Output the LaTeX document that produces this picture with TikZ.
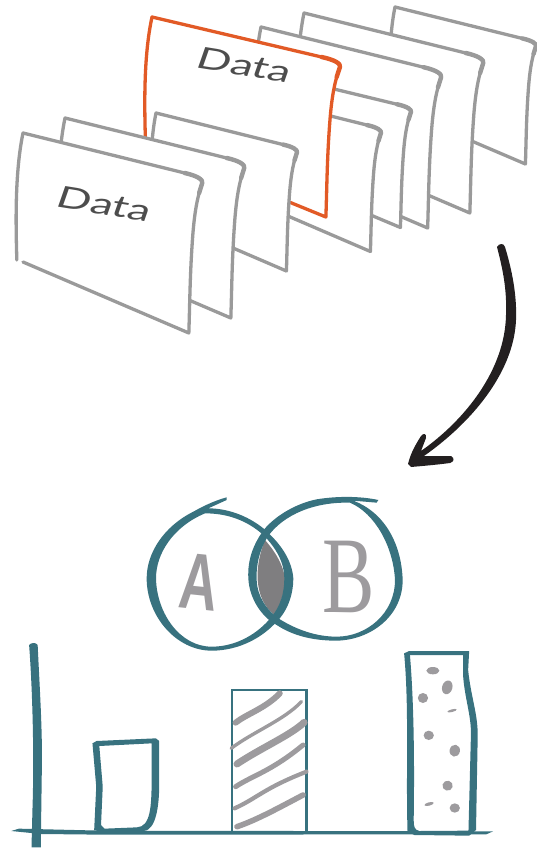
\documentclass[tikz,border=0pt]{standalone}
\usepackage{fontspec}
\setmainfont{Liberation Sans}
\newfontfamily\letterfont{Liberation Serif}
\newfontfamily\datafont{Lato}
\definecolor{cardgrey}{HTML}{9A9A9A}
\definecolor{cardorange}{HTML}{E25A26}
\definecolor{teal1}{HTML}{38727F}
\definecolor{lettergrey}{HTML}{9D9B9E}
\definecolor{lensgrey}{HTML}{7F7E80}
\definecolor{arrowblack}{HTML}{231F20}
\definecolor{datagrey}{HTML}{4D4D4D}
\tikzset{
  datalabel/.style={text=datagrey,font=\datafont\fontsize{30}{30}\selectfont,rotate=-9,xslant=.18,xscale=1.5,transform shape,inner sep=0pt},
  tealfill/.style={fill=teal1,draw=none},
  stripe/.style={draw=lettergrey,line cap=round},
  speck/.style={fill=lettergrey,draw=none},
  sheetline/.style={line width=3.3pt,line join=round,line cap=round},
}
% \sheet{x}{y}{xscale}{yscale}{colour}: one sheet with its top left corner at x,y
\newcommand{\sheet}[5]{%
  \begin{scope}[shift={(#1,#2)},xscale=#3,yscale=#4]
    \fill[white] (0,0) -- (157,40) .. controls (170,43) and (175,47) .. (174,50) .. controls (170,62) and (167,75) .. (165,100) .. controls (162,140) and (162,170) .. (161,200) -- (-6,129) .. controls (-7,90) and (-8,40) .. (0,0) -- cycle;
    \draw[sheetline,draw=#5] (-6,127) .. controls (-7,90) and (-8,40) .. (0,0) -- (157,40) .. controls (170,43) and (175,47) .. (174,50) .. controls (170,62) and (167,75) .. (165,100) .. controls (162,140) and (162,170) .. (161,200) -- (0,129);
    \draw[line width=4.4pt,line cap=round,line join=round,draw=#5] (157,40) .. controls (170,43) and (175,47) .. (174,50) -- (171,60);
  \end{scope}}
\begin{document}
\begin{tikzpicture}[x=1pt,y=-1pt]
\useasboundingbox (0,0) rectangle (537,848);
% sheets, back to front
\sheet{395}{7}{.81}{.785}{cardgrey}
\sheet{304}{13}{1.03}{1}{cardgrey}
\sheet{261}{27}{1.035}{1.005}{cardgrey}
\sheet{270}{73.5}{.81}{.77}{cardgrey}
\sheet{240}{93.5}{.81}{.79}{cardgrey}
\sheet{152}{17}{1.08}{1}{cardorange}
\sheet{156}{113}{.81}{.79}{cardgrey}
\sheet{65}{118}{1.03}{1}{cardgrey}
\sheet{23}{133}{1.03}{1}{cardgrey}
\node[datalabel] (databack) at (245,65) {Data};
\node[datalabel] (datafront) at (105,204) {Data};
% curved arrow
\fill[arrowblack] (497,247) .. controls (499,243) and (504,243) .. (505,247) .. controls (512,270) and (517,295) .. (516,320) .. controls (514,370) and (475,420) .. (424,456) -- (451,456) .. controls (455,458) and (454,462) .. (450,463) .. controls (435,465) and (422,466) .. (411,467) -- (408,464) .. controls (411,452) and (416,444) .. (421,436) .. controls (423,433) and (427,433) .. (426,438) -- (421,451) .. controls (465,420) and (505,370) .. (506,315) .. controls (507,290) and (503,270) .. (497,247) -- cycle;
% Venn diagram
\begin{scope}[shift={(130,490)},scale=1/3]
  \fill[lensgrey] (405,150) .. controls (440,190) and (470,240) .. (465,290) -- (440,380) .. controls (380,340) and (365,250) .. (405,150) -- cycle;
  \fill[tealfill,even odd rule] (290,22) .. controls (260,30) and (225,45) .. (190,65) .. controls (100,110) and (50,190) .. (50,265) .. controls (50,380) and (140,482) .. (245,482) .. controls (330,482) and (400,440) .. (440,395) .. controls (475,360) and (490,310) .. (490,265) .. controls (485,200) and (440,150) .. (400,115) .. controls (350,75) and (290,55) .. (235,55) -- (290,30) -- cycle
  (225,70) .. controls (290,70) and (350,90) .. (400,135) .. controls (440,175) and (463,220) .. (463,265) .. controls (463,310) and (450,350) .. (425,380) .. controls (385,430) and (320,470) .. (245,470) .. controls (150,470) and (80,370) .. (78,265) .. controls (78,190) and (130,110) .. (225,70) -- cycle;
  \fill[tealfill,even odd rule] (745,30) .. controls (690,18) and (620,18) .. (560,28) .. controls (500,40) and (440,75) .. (405,115) .. controls (370,160) and (352,210) .. (355,265) .. controls (358,330) and (400,385) .. (440,405) .. controls (500,445) and (570,452) .. (620,452) .. controls (720,450) and (818,380) .. (818,270) .. controls (815,170) and (770,70) .. (670,32) -- (740,38) -- cycle
  (660,38) .. controls (735,70) and (790,170) .. (795,270) .. controls (795,370) and (710,440) .. (620,440) .. controls (560,440) and (500,420) .. (445,385) .. controls (410,360) and (382,320) .. (380,270) .. controls (378,220) and (390,180) .. (410,145) .. controls (445,90) and (530,35) .. (660,38) -- cycle;
\end{scope}
\node[text=lettergrey,inner sep=0pt,rotate=-6,xscale=.66,transform shape,font=\bfseries\fontsize{80}{80}\selectfont] (lettera) at (199,582) {A};
\node[text=lettergrey,inner sep=0pt,xscale=.72,transform shape,font=\letterfont\fontsize{109}{109}\selectfont] (letterb) at (349,577) {B};
% bar chart
\begin{scope}[shift={(0,640)},xscale=1/2.92,yscale=1/3]
  \fill[tealfill] (85,15) .. controls (90,8) and (105,6) .. (110,15) .. controls (115,130) and (125,280) .. (122,400) -- (119,622) -- (92,622) -- (95,500) .. controls (100,350) and (95,150) .. (85,15) -- cycle;
  \fill[tealfill] (33,573) -- (55,566) -- (300,572) -- (1440,574) -- (1420,583) -- (300,584) -- (120,582) -- cycle;
  % short bar
  \fill[tealfill,even odd rule] (270,310) -- (282,303) -- (455,295) -- (465,303) -- (465,430) .. controls (465,500) and (455,570) .. (420,573) -- (300,578) -- (275,570) -- (281,440) -- cycle
  (290,318) -- (443,310) -- (443,420) .. controls (442,500) and (440,560) .. (400,562) -- (305,566) -- (295,555) -- (300,440) -- cycle;
  % striped bar
  \draw[draw=teal1,line width=2.2pt] (678,576) -- (678,150) -- (895,150) -- (895,576);
  \draw[stripe,line width=6pt] (688,248) .. controls (720,222) and (775,205) .. (817,160);
  \draw[stripe,line width=3.4pt] (675,325) .. controls (740,275) and (830,240) .. (880,185);
  \draw[stripe,line width=7pt] (692,372) .. controls (760,325) and (850,285) .. (888,247);
  \draw[stripe,line width=5pt] (688,440) .. controls (740,405) and (790,395) .. (885,315);
  \draw[stripe,line width=4.2pt] (685,505) .. controls (750,475) and (770,445) .. (895,395);
  \draw[stripe,line width=5.6pt] (692,560) .. controls (750,540) and (820,500) .. (885,465);
  % dotted bar
  \fill[tealfill,even odd rule] (1180,40) -- (1195,33) -- (1370,33) -- (1367,90) .. controls (1375,170) and (1395,220) .. (1395,285) -- (1390,570) -- (1370,587) -- (1210,585) -- (1190,575) .. controls (1185,400) and (1195,200) .. (1180,40) -- cycle
  (1197,45) -- (1352,45) -- (1352,100) .. controls (1355,170) and (1378,230) .. (1375,290) -- (1368,572) -- (1225,573) .. controls (1210,570) and (1208,560) .. (1208,540) .. controls (1210,400) and (1210,200) .. (1197,45) -- cycle;
  \fill[speck] (1264,92) ellipse [x radius=19,y radius=11];
  \fill[speck,rotate around={-15:(1306,142)}] (1306,142) ellipse [x radius=15,y radius=21];
  \fill[speck] (1235,174) ellipse [x radius=15,y radius=15];
  \fill[speck,rotate around={15:(1320,212)}] (1320,212) ellipse [x radius=14,y radius=4];
  \fill[speck] (1252,286) ellipse [x radius=15,y radius=14];
  \fill[speck,rotate around={-10:(1328,332)}] (1328,332) ellipse [x radius=15,y radius=18];
  \fill[speck,rotate around={-15:(1307,437)}] (1307,437) ellipse [x radius=15,y radius=15];
  \fill[speck,rotate around={15:(1253,492)}] (1253,492) ellipse [x radius=14,y radius=5];
  \fill[speck] (1328,504) ellipse [x radius=15,y radius=14];
\end{scope}
\end{tikzpicture}
\end{document}
